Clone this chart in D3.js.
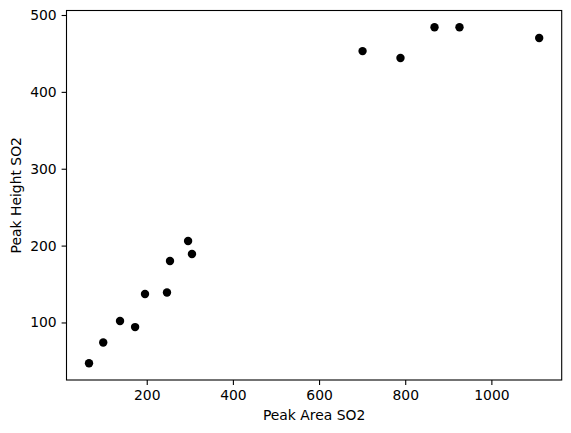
<!DOCTYPE html>
<html><head><meta charset="utf-8">
<script src="https://cdn.jsdelivr.net/npm/d3@7"></script>
<style>body{margin:0;background:#fff}svg{display:block}</style>
</head><body>
<script>
const peakArea = [66, 99, 138, 173, 196, 247, 254, 296, 305, 701, 789, 868, 926, 1111];
const peakHeight = [47, 74, 102, 94, 137, 139, 180, 206, 189, 453, 444, 484, 484, 470];
const xTicks = [200, 400, 600, 800, 1000];
const yTicks = [100, 200, 300, 400, 500];

const W = 571, H = 433;
const L = 66.5, R = 561.7, T = 10.5, B = 380;
const svg = d3.select("body").append("svg").attr("width", W).attr("height", H);

function pad(ext){ const r = ext[1]-ext[0]; return [ext[0]-0.05*r, ext[1]+0.05*r]; }
const x = d3.scaleLinear().domain(pad(d3.extent(peakArea))).range([L, R]);
const y = d3.scaleLinear().domain(pad(d3.extent(peakHeight))).range([B, T]);

const font = "DejaVu Sans, sans-serif";
const xa = svg.append("g").attr("transform", `translate(0,${B})`)
  .call(d3.axisBottom(x).tickValues(xTicks).tickSize(4.9).tickPadding(4.9).tickFormat(d3.format("d")));
const ya = svg.append("g").attr("transform", `translate(${L},0)`)
  .call(d3.axisLeft(y).tickValues(yTicks).tickSize(4.9).tickPadding(4.9).tickFormat(d3.format("d")));
[xa, ya].forEach(a => {
  a.select(".domain").remove();
  a.selectAll("line").attr("stroke", "#000").attr("stroke-width", 1.1);
  a.selectAll("text").attr("font-family", font).attr("font-size", 13.9).attr("fill", "#000");
});

svg.append("rect").attr("x", L).attr("y", T).attr("width", R-L).attr("height", B-T)
  .attr("fill", "none").attr("stroke", "#000").attr("stroke-width", 1.1);

svg.append("g").selectAll("circle").data(peakArea).join("circle")
  .attr("cx", d => x(d)).attr("cy", (d,i) => y(peakHeight[i])).attr("r", 4.2).attr("fill", "#000");

svg.append("text").attr("x", (L+R)/2).attr("y", 420).attr("text-anchor", "middle")
  .attr("font-family", font).attr("font-size", 13.9).text("Peak Area SO2");
svg.append("text").attr("transform", `translate(21,${(T+B)/2}) rotate(-90)`).attr("text-anchor", "middle")
  .attr("font-family", font).attr("font-size", 13.9).text("Peak Height SO2");
</script>
</body></html>
